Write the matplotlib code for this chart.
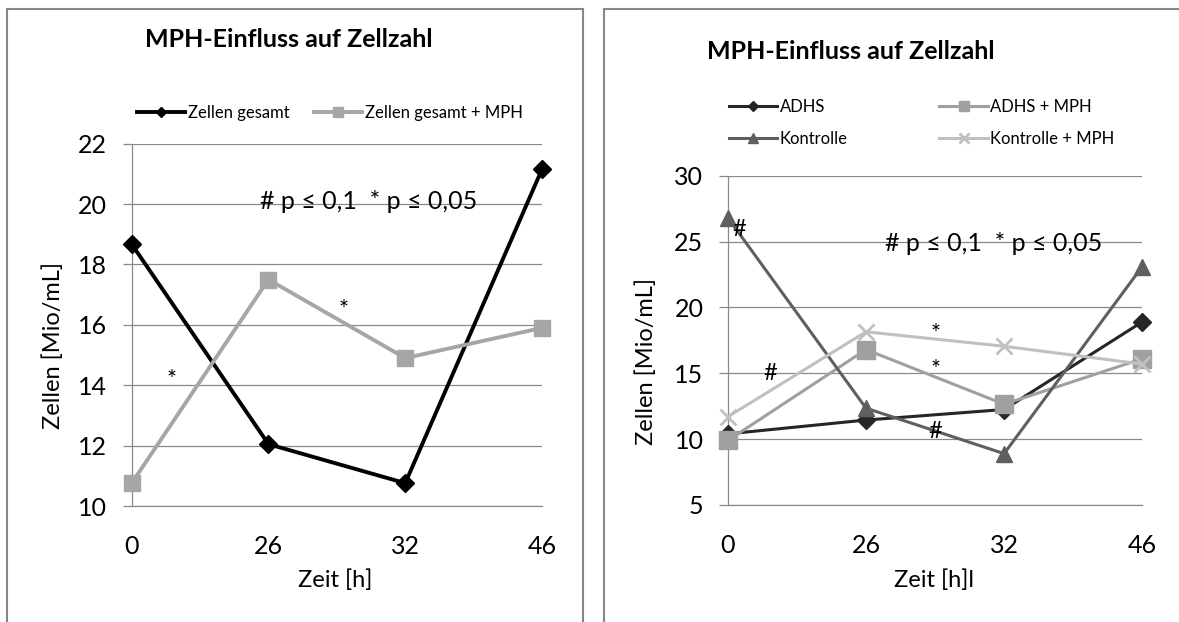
import matplotlib
matplotlib.use('Agg')
import matplotlib.pyplot as plt
from matplotlib.patches import Rectangle

plt.rcParams['font.family'] = ['Lato', 'DejaVu Sans']

# Time points (categorical axis)
zeit = ["0", "26", "32", "46"]

# Left chart: all cells
zellen_gesamt = [18.67, 12.05, 10.76, 21.15]
zellen_gesamt_mph = [10.76, 17.5, 14.9, 15.9]

# Right chart: groups
adhs = [10.4, 11.45, 12.25, 18.9]
adhs_mph = [9.9, 16.8, 12.65, 16.1]
kontrolle = [26.8, 12.35, 8.9, 23.1]
kontrolle_mph = [11.7, 18.15, 17.05, 15.7]

sig_text = "# p \u2264 0,1  * p \u2264 0,05"
title = "MPH-Einfluss auf Zellzahl"

W, H = 1179, 622
fig = plt.figure(figsize=(W / 100, H / 100), dpi=100)
fig.patch.set_facecolor("white")

GRID = "#8a8a8a"


def px_axes(x0, x1, ytop, ybot):
    return fig.add_axes([x0 / W, 1 - ybot / H, (x1 - x0) / W, (ybot - ytop) / H])


def style_axes(ax, ymin, ymax, step):
    x = list(range(len(zeit)))
    ax.set_xlim(0, len(zeit) - 1)
    ax.set_ylim(ymin, ymax)
    ax.set_xticks(x)
    ax.set_xticklabels(zeit)
    ax.set_yticks(range(ymin, ymax + 1, step))
    ax.grid(axis="y", color=GRID, lw=0.9)
    ax.set_axisbelow(True)
    for s in ["top", "right"]:
        ax.spines[s].set_visible(False)
    for s in ["left", "bottom"]:
        ax.spines[s].set_color(GRID)
        ax.spines[s].set_linewidth(0.9)
    ax.tick_params(axis="y", length=6.6, width=0.9, color=GRID, pad=11, labelsize=18)
    ax.tick_params(axis="x", length=0, pad=21, labelsize=18)
    ax.set_facecolor("white")


# panel frames
fig.patches.append(Rectangle((7.5 / W, -0.1), 575 / W, 1.1 - 9.5 / H, transform=fig.transFigure,
                             fill=False, edgecolor="#878787", lw=1.5))
fig.patches.append(Rectangle((603.5 / W, -0.1), 0.6, 1.1 - 9.5 / H, transform=fig.transFigure,
                             fill=False, edgecolor="#878787", lw=1.5))

x = list(range(len(zeit)))

# ---- left chart ----
ax1 = px_axes(131.7, 542, 143.6, 506.1)
style_axes(ax1, 10, 22, 2)
l1, = ax1.plot(x, zellen_gesamt, color="black", lw=2.8, marker="D", ms=9, clip_on=False, zorder=3)
l2, = ax1.plot(x, zellen_gesamt_mph, color="#a6a6a6", lw=2.8, marker="s", ms=11, clip_on=False, zorder=3)
ax1.set_ylabel("Zellen [Mio/mL]", fontsize=17)
ax1.yaxis.set_label_coords(-0.165, 0.444)
ax1.set_xlabel("Zeit [h]", fontsize=17)
ax1.xaxis.set_label_coords(0.495, -0.175)

ax1.text(1.735, 20.09, sig_text, fontsize=18, ha="center", va="center")
ax1.text(0.295, 14.2, "*", fontsize=17, ha="center", va="center")
ax1.text(1.552, 16.5, "*", fontsize=17, ha="center", va="center")

fig.text(288.5 / W, 1 - 39.7 / H, title, fontsize=18, fontweight="bold", ha="center", va="center")

leg_kw = dict(frameon=False, fontsize=12, handlelength=2.9, handletextpad=0.15,
              borderpad=0, borderaxespad=0, loc="center left", markerscale=0.6)
fig.legend([l1], ["Zellen gesamt"], bbox_to_anchor=(137 / W, 1 - 113 / H), **leg_kw)
fig.legend([l2], ["Zellen gesamt + MPH"], bbox_to_anchor=(314 / W, 1 - 113 / H), **leg_kw)

# ---- right chart ----
ax2 = px_axes(727.9, 1142.2, 175.7, 505)
style_axes(ax2, 5, 30, 5)
r1, = ax2.plot(x, adhs, color="#262626", lw=2.2, marker="D", ms=9, clip_on=False, zorder=3)
r2, = ax2.plot(x, adhs_mph, color="#a0a0a0", lw=2.2, marker="s", ms=12.5, clip_on=False, zorder=3)
r3, = ax2.plot(x, kontrolle, color="#5f5f5f", lw=2.2, marker="^", ms=11, clip_on=False, zorder=3)
r4, = ax2.plot(x, kontrolle_mph, color="#c0c0c0", lw=2.2, marker="x", ms=12, mew=2,
               clip_on=False, zorder=3)
ax2.set_ylabel("Zellen [Mio/mL]", fontsize=17)
ax2.yaxis.set_label_coords(-0.171, 0.437)
ax2.set_xlabel("Zeit [h]l", fontsize=17)
ax2.xaxis.set_label_coords(0.498, -0.196)

ax2.text(1.925, 24.87, sig_text, fontsize=18, ha="center", va="center")
for tx, ty, s in [(0.08, 25.88, "#"), (0.304, 15.02, "#"), (1.5, 18.0, "*"),
                  (1.5, 15.3, "*"), (1.5, 10.57, "#")]:
    ax2.text(tx, ty, s, fontsize=17, ha="center", va="center", zorder=4)

fig.text(706.5 / W, 1 - 51.6 / H, title, fontsize=18, fontweight="bold", ha="left", va="center")

leg_kw2 = dict(leg_kw, labelspacing=1.0)
fig.legend([r1, r3], ["ADHS", "Kontrolle"], bbox_to_anchor=(729 / W, 1 - 123 / H), **leg_kw2)
fig.legend([r2, r4], ["ADHS + MPH", "Kontrolle + MPH"], bbox_to_anchor=(939.4 / W, 1 - 123 / H),
           **leg_kw2)

fig.savefig("out.png", dpi=100)
